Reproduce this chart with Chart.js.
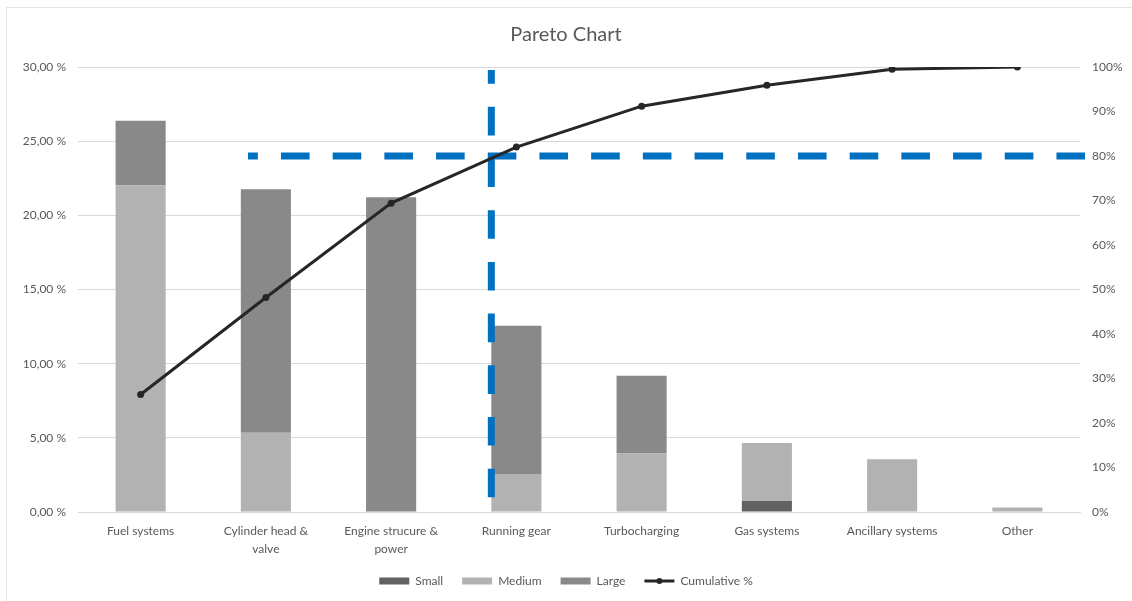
<!DOCTYPE html>
<html>
<head>
<meta charset="utf-8">
<title>Pareto Chart</title>
<script src="https://cdn.jsdelivr.net/npm/chart.js@4/dist/chart.umd.min.js"></script>
<style>
  html, body { margin: 0; padding: 0; background: #ffffff; }
  #wrap { position: relative; width: 1132px; height: 601px; }
  #frame { position: absolute; left: 6px; top: 7px; right: 0; bottom: 0;
           border-left: 1px solid #e4e4e4; border-top: 1px solid #e4e4e4; pointer-events: none; }
  canvas { position: absolute; left: 0; top: 0; }
</style>
</head>
<body>
<div id="wrap">
  <canvas id="pareto" width="1132" height="601"></canvas>
  <div id="frame"></div>
</div>
<script>
// Failure categories, sorted by share (descending)
const categories = [
  'Fuel systems',
  ['Cylinder head &', 'valve'],
  ['Engine strucure &', 'power'],
  'Running gear',
  'Turbocharging',
  'Gas systems',
  'Ancillary systems',
  'Other'
];

// Share of failures per category (%), split by engine size
const smallShare  = [0,     0,     0,     0,    0,    0.74, 0,    0];
const mediumShare = [22.03, 5.34,  0,     2.57, 3.94, 3.92, 3.56, 0.30];
const largeShare  = [4.35,  16.42, 21.22, 9.98, 5.25, 0,    0,    0];

// Running total (%) on the secondary axis
const cumulativePct = [26.4, 48.2, 69.4, 82.0, 91.2, 95.9, 99.5, 100];

// Tick values for both axes
const leftTicks  = [0, 5, 10, 15, 20, 25, 30];
const rightTicks = [0, 10, 20, 30, 40, 50, 60, 70, 80, 90, 100];

// 80 % cut-off and the first category past it
const cutoffPct = 80;
const cutoffCategory = 3;

const FONT = 'Lato, "Open Sans", sans-serif';
const TEXT = '#595959';
const GRID = '#d9d9d9';
const CUTOFF_BLUE = '#0070c0';
const BAR_FRACTION = 0.4;
const DASH = [28.6, 23.1];

// Draws the dashed cut-off guide lines just before the cumulative line
const cutoffGuides = {
  id: 'cutoffGuides',
  beforeDatasetDraw(chart, args) {
    if (chart.data.datasets[args.index].type !== 'line') return;
    const { ctx } = chart;
    const x = chart.scales.x, y1 = chart.scales.y1;
    ctx.save();
    ctx.strokeStyle = CUTOFF_BLUE;
    ctx.lineWidth = 7;
    ctx.lineCap = 'butt';
    ctx.setLineDash(DASH);

    // horizontal guide at the cut-off percentage
    const hy = y1.getPixelForValue(cutoffPct);
    ctx.lineDashOffset = 18.7;
    ctx.beginPath();
    ctx.moveTo(x.getPixelForValue(0.857), hy);
    ctx.lineTo(x.getPixelForValue(7.54), hy);
    ctx.stroke();

    // vertical guide at the left edge of the cut-off category's bar
    const vx = x.getPixelForValue(cutoffCategory - BAR_FRACTION / 2);
    ctx.lineDashOffset = 15;
    ctx.beginPath();
    ctx.moveTo(vx, y1.getPixelForValue(99.3));
    ctx.lineTo(vx, y1.getPixelForValue(3.1));
    ctx.stroke();
    ctx.restore();
  },
  afterDraw(chart) {
    // marker dot on the legend line sample
    const legend = chart.legend;
    if (!legend || !legend.legendHitBoxes) return;
    const k = legend.legendItems.findIndex(it => chart.data.datasets[it.datasetIndex].type === 'line');
    const hb = legend.legendHitBoxes[k];
    if (!hb) return;
    const ctx = chart.ctx;
    ctx.save();
    ctx.fillStyle = '#262626';
    ctx.beginPath();
    ctx.arc(hb.left + 15, hb.top + hb.height / 2, 3, 0, Math.PI * 2);
    ctx.fill();
    ctx.restore();
  }
};

const barCommon = {
  type: 'bar',
  yAxisID: 'y',
  stack: 'share',
  order: 1,
  barPercentage: BAR_FRACTION,
  categoryPercentage: 1,
  borderWidth: 0,
  pointStyle: 'rect'
};

new Chart(document.getElementById('pareto'), {
  data: {
    labels: categories,
    datasets: [
      Object.assign({}, barCommon, { label: 'Small',  data: smallShare,  backgroundColor: '#626262' }),
      Object.assign({}, barCommon, { label: 'Medium', data: mediumShare, backgroundColor: '#b2b2b2' }),
      Object.assign({}, barCommon, { label: 'Large',  data: largeShare,  backgroundColor: '#898989' }),
      {
        type: 'line',
        label: 'Cumulative %',
        data: cumulativePct,
        yAxisID: 'y1',
        order: 0,
        borderColor: '#262626',
        backgroundColor: '#262626',
        borderWidth: 3,
        pointRadius: 3.5,
        pointBackgroundColor: '#262626',
        pointBorderWidth: 0,
        tension: 0
      }
    ]
  },
  options: {
    responsive: false,
    devicePixelRatio: 1,
    animation: false,
    layout: { padding: { left: 0, right: 0, top: 0, bottom: 4 } },
    plugins: {
      tooltip: { enabled: false },
      title: {
        display: true,
        text: 'Pareto Chart',
        color: TEXT,
        font: { family: FONT, size: 20, weight: 'normal' },
        padding: { top: 23, bottom: 20 }
      },
      legend: {
        position: 'bottom',
        labels: {
          color: TEXT,
          font: { family: FONT, size: 12 },
          usePointStyle: true,
          pointStyleWidth: 30,
          boxHeight: 7,
          padding: 19,
          sort: (a, b) => a.datasetIndex - b.datasetIndex,
          generateLabels(chart) {
            const items = Chart.defaults.plugins.legend.labels.generateLabels(chart);
            items.forEach(it => {
              if (chart.data.datasets[it.datasetIndex].type === 'line') {
                it.pointStyle = 'line';
                it.lineWidth = 3;
                it.strokeStyle = '#262626';
              } else {
                it.pointStyle = 'rect';
                it.lineWidth = 0;
              }
            });
            return items;
          }
        }
      }
    },
    scales: {
      x: {
        grid: { display: false, drawTicks: false, tickLength: 0 },
        border: { display: true, color: GRID, width: 1 },
        ticks: {
          color: TEXT,
          font: { family: FONT, size: 12, lineHeight: 1.5 },
          padding: 10,
          maxRotation: 0,
          autoSkip: false
        },
        afterFit(s) { s.height = 44; }
      },
      y: {
        position: 'left',
        min: 0,
        max: 30,
        grid: { color: GRID, drawTicks: false },
        border: { display: false },
        afterBuildTicks(s) { s.ticks = leftTicks.map(v => ({ value: v })); },
        ticks: {
          color: TEXT,
          font: { family: FONT, size: 12 },
          padding: 12,
          callback: v => v.toFixed(2).replace('.', ',') + ' %'
        },
        afterFit(s) { s.width = 78; }
      },
      y1: {
        position: 'right',
        min: 0,
        max: 100,
        grid: { display: false, drawTicks: false },
        border: { display: false },
        afterBuildTicks(s) { s.ticks = rightTicks.map(v => ({ value: v })); },
        ticks: {
          color: TEXT,
          font: { family: FONT, size: 12 },
          padding: 12,
          callback: v => v + '%'
        },
        afterFit(s) { s.width = 52; }
      }
    }
  },
  plugins: [cutoffGuides]
});
</script>
</body>
</html>
